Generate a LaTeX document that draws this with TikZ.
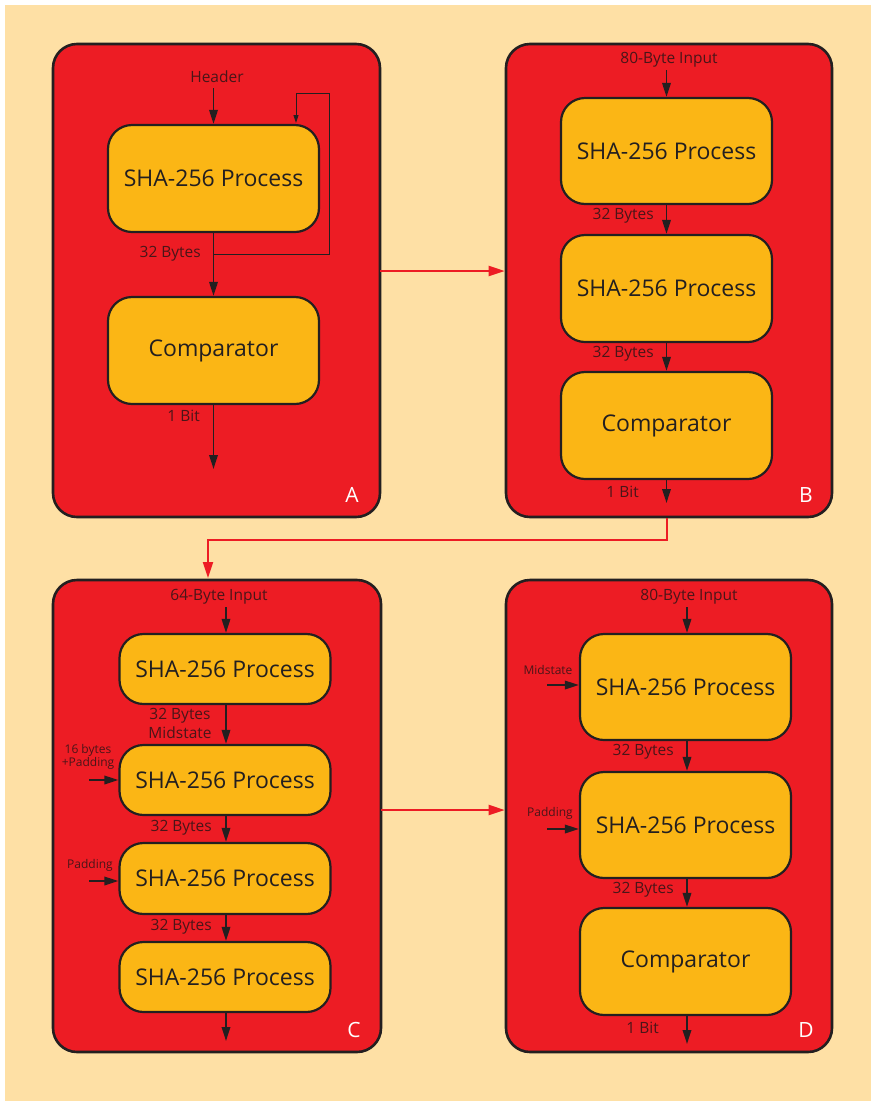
\documentclass[tikz,border=0pt]{standalone}
\usepackage{fontspec}
\setmainfont{Open Sans}
\usetikzlibrary{arrows.meta}
\definecolor{cream}{HTML}{FEE0A5}
\definecolor{panelred}{HTML}{ED1C24}
\definecolor{boxorange}{HTML}{FBB615}
\definecolor{ink}{HTML}{231F20}
\definecolor{labelink}{HTML}{4A1518}
\tikzset{
  panel/.style={draw=ink, line width=2.6pt, fill=panelred, rounded corners=24pt, inner sep=0pt},
  procbox/.style={draw=ink, line width=2.2pt, fill=boxorange, rounded corners=24pt, inner sep=0pt,
    minimum width=211pt, text=ink, font=\fontsize{23}{26}\selectfont},
  flow/.style={draw=ink, line width=1.8pt, -{Triangle[length=14pt,width=8.5pt]}},
  feed/.style={draw=ink, line width=0.9pt, -{Triangle[length=8pt,width=5pt]}},
  link/.style={draw=panelred, line width=2pt, -{Triangle[length=16pt,width=10pt]}},
  lbl/.style={text=labelink, font=\fontsize{15.5}{17}\selectfont, inner sep=0pt},
  smalllbl/.style={text=labelink, font=\fontsize{12}{13.5}\selectfont, inner sep=0pt, align=center},
  letter/.style={text=white, font=\fontsize{21}{24}\selectfont, inner sep=0pt}
}
\begin{document}
\begin{tikzpicture}[x=1pt,y=-1pt]
% page and background
\fill[white] (0,0) rectangle (874,1104);
\useasboundingbox (0,0) rectangle (874,1104);
\fill[cream] (5,5) rectangle (871,1101);

% four panels
\node[panel, minimum width=327pt, minimum height=473pt] (pA) at (216.5,280.5) {};
\node[panel, minimum width=326pt, minimum height=473pt] (pB) at (669,280.5) {};
\node[panel, minimum width=328pt, minimum height=472pt] (pC) at (217,816) {};
\node[panel, minimum width=326pt, minimum height=472pt] (pD) at (669,816) {};

% ---------- panel A ----------
\node[procbox, minimum height=107pt] (a1) at (213.5,178.5) {SHA-256 Process};
\node[procbox, minimum height=107pt] (a2) at (213.5,350.5) {Comparator};
\node[lbl] (aIn) at (217,77) {Header};
\coordinate (aInS) at (213.5,88);
\draw[flow] (aInS) -- (a1.north);
\draw[flow] (a1.south) -- (a2.north);
\coordinate (aTap) at (213.5,254);
\coordinate (aFb) at (296,93);
\draw[feed] (aTap) -- (329,254) -- (329,93) -- (aFb) -- (296,123);
\node[lbl, anchor=east] (aL1) at (201,254) {32 Bytes};
\coordinate (aOut) at (213.5,469);
\draw[flow] (a2.south) -- (aOut);
\node[lbl, anchor=east] (aL2) at (200,416) {1 Bit};
\node[letter] (aLet) at (352,495) {A};

% ---------- panel B ----------
\node[procbox, minimum height=106pt] (b1) at (666.5,151) {SHA-256 Process};
\node[procbox, minimum height=107pt] (b2) at (666.5,288.5) {SHA-256 Process};
\node[procbox, minimum height=107pt] (b3) at (666.5,425.5) {Comparator};
\node[lbl] (bIn) at (669,60) {80-Byte Input};
\coordinate (bInS) at (666.5,70);
\draw[flow] (bInS) -- (b1.north);
\draw[flow] (b1.south) -- (b2.north);
\draw[flow] (b2.south) -- (b3.north);
\node[lbl, anchor=east] (bL1) at (654,216) {32 Bytes};
\node[lbl, anchor=east] (bL2) at (654,354) {32 Bytes};
\node[lbl, anchor=east] (bL3) at (639,492) {1 Bit};
\coordinate (bOut) at (666.5,503);
\draw[flow] (b3.south) -- (bOut);
\node[letter] (bLet) at (806,495) {B};

% ---------- panel C ----------
\node[procbox, minimum height=70pt] (c1) at (225,669) {SHA-256 Process};
\node[procbox, minimum height=70pt] (c2) at (225,780) {SHA-256 Process};
\node[procbox, minimum height=71pt] (c3) at (225,878.5) {SHA-256 Process};
\node[procbox, minimum height=70pt] (c4) at (225,977) {SHA-256 Process};
\node[lbl] (cIn) at (219,597) {64-Byte Input};
\coordinate (cInS) at (226,607);
\draw[flow] (cInS) -- (c1.north -| cInS);
\draw[flow] (c1.south -| cInS) -- (c2.north -| cInS);
\draw[flow] (c2.south -| cInS) -- (c3.north -| cInS);
\draw[flow] (c3.south -| cInS) -- (c4.north -| cInS);
\coordinate (cOut) at (226,1041);
\draw[flow] (c4.south -| cInS) -- (cOut);
\node[lbl, align=center, font=\fontsize{15.5}{19}\selectfont] (cL1) at (180,723.5) {32 Bytes\\Midstate};
\node[lbl, anchor=east] (cL2) at (212,828) {32 Bytes};
\node[lbl, anchor=east] (cL3) at (212,927) {32 Bytes};
\node[smalllbl] (cS1) at (88,757) {16 bytes\\+Padding};
\coordinate (cS1a) at (89,780);
\draw[flow] (cS1a) -- (cS1a -| c2.west);
\node[smalllbl] (cS2) at (90,865) {Padding};
\coordinate (cS2a) at (89,881);
\draw[flow] (cS2a) -- (cS2a -| c3.west);
\node[letter] (cLet) at (354,1030) {C};

% ---------- panel D ----------
\node[procbox, minimum height=106pt] (d1) at (685.5,687) {SHA-256 Process};
\node[procbox, minimum height=106pt] (d2) at (685.5,825) {SHA-256 Process};
\node[procbox, minimum height=107pt] (d3) at (685.5,961.5) {Comparator};
\node[lbl] (dIn) at (689,597) {80-Byte Input};
\coordinate (dInS) at (687,607);
\draw[flow] (dInS) -- (d1.north -| dInS);
\draw[flow] (d1.south -| dInS) -- (d2.north -| dInS);
\draw[flow] (d2.south -| dInS) -- (d3.north -| dInS);
\coordinate (dOut) at (687,1044);
\draw[flow] (d3.south -| dInS) -- (dOut);
\node[lbl, anchor=east] (dL1) at (674,752) {32 Bytes};
\node[lbl, anchor=east] (dL2) at (674,890) {32 Bytes};
\node[lbl, anchor=east] (dL3) at (659,1028) {1 Bit};
\node[smalllbl] (dS1) at (548,670) {Midstate};
\coordinate (dS1a) at (547,685);
\draw[flow] (dS1a) -- (dS1a -| d1.west);
\node[smalllbl] (dS2) at (550,813) {Padding};
\coordinate (dS2a) at (547,829);
\draw[flow] (dS2a) -- (dS2a -| d2.west);
\node[letter] (dLet) at (806,1030) {D};

% ---------- links between panels ----------
\coordinate (ab) at (380,271);
\draw[link] (ab) -- (ab -| pB.west);
\coordinate (bc) at (667,540);
\draw[link] (pB.south -| bc) -- (bc) -- (208,540) -- (208,578);
\coordinate (cd) at (381,810);
\draw[link] (cd) -- (cd -| pD.west);
\end{tikzpicture}
\end{document}
